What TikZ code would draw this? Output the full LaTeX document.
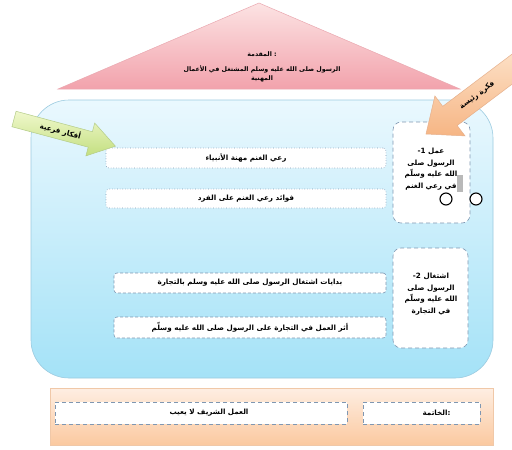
\documentclass[tikz,border=0pt]{standalone}
\usepackage{fontspec}
\newfontfamily\ar[Script=Arabic]{DejaVu Sans}
\TeXXeTstate=1
\newcommand{\AR}[1]{\beginR #1\endR}
\definecolor{bordc}{HTML}{7F97B2}
\definecolor{roofTop}{HTML}{FCE3E3}
\definecolor{roofBot}{HTML}{F2A2AC}
\definecolor{roofLine}{HTML}{EAA8B0}
\definecolor{panTop}{HTML}{EAF8FE}
\definecolor{panBot}{HTML}{A4E2F7}
\definecolor{panLine}{HTML}{9CCBE0}
\definecolor{grnTop}{HTML}{F0F8CC}
\definecolor{grnBot}{HTML}{C3DF80}
\definecolor{grnLine}{HTML}{B4CC88}
\definecolor{orTop}{HTML}{FDE3CA}
\definecolor{orBot}{HTML}{F6B584}
\definecolor{orLine}{HTML}{E6B08C}
\definecolor{endTop}{HTML}{FEEEE2}
\definecolor{endBot}{HTML}{FBC9A0}
\definecolor{endLine}{HTML}{F0C8A8}
\begin{document}
\begin{tikzpicture}[x=1pt, y=-1pt,
  font=\ar\bfseries\fontsize{7.2}{11.5}\selectfont,
  lbox/.style={draw=bordc, fill=white, line width=0.6pt, inner sep=0pt},
  dotbox/.style={lbox, rounded corners=3pt, dotted},
  dashbox/.style={lbox, rounded corners=3pt, dash pattern=on 3pt off 2pt},
  bigbox/.style={lbox, rounded corners=8pt, dash pattern=on 4pt off 3pt, align=center},
  ring/.style={draw=black, fill=white, line width=1.1pt, circle, minimum size=12pt, inner sep=0pt},
  lbl/.style={inner sep=0pt, align=center}]
\useasboundingbox (0,0) rectangle (512,450);
\fill[white] (0,0) rectangle (512,450);
\clip (0,0) rectangle (512,450);

% roof
\shade[top color=roofTop, bottom color=roofBot, draw=roofLine, line width=0.5pt]
  (259,3) -- (460,89) -- (58,89) -- cycle;
\node[lbl, font=\ar\bfseries\fontsize{6.3}{9}\selectfont] (intro) at (262,67) {\AR{المقدمة}\ :\\[6pt]
  \AR{الرسول صلى الله عليه وسلم المشتغل في الأعمال}\\
  \AR{المهنية}};

% main panel
\shade[top color=panTop, bottom color=panBot, draw=panLine, line width=0.6pt, rounded corners=38pt]
  (31,100) rectangle (493,378);

% left boxes
\node[dotbox, minimum width=280pt, minimum height=20pt] (a) at (246,158) {\AR{رعي الغنم مهنة الأنبياء}};
\node[dotbox, minimum width=280pt, minimum height=19pt] (b) at (246,198.5) {\AR{فوائد رعي الغنم على الفرد}};
\node[dashbox, minimum width=272pt, minimum height=20pt] (c) at (250,283) {\AR{بدايات اشتغال الرسول صلى الله عليه وسلم بالتجارة}};
\node[dashbox, minimum width=272pt, minimum height=21pt] (d) at (250,327.5) {\AR{أثر العمل في التجارة على الرسول صلى الله عليه وسلّم}};

% right boxes
\node[bigbox, minimum width=77pt, minimum height=101pt] (m1) at (431.5,172.5) {};
\node[lbl] (m1t) at (431,169) {1-\ \AR{عمل}\\\AR{الرسول صلى}\\\AR{الله عليه وسلّم}\\\AR{في رعي الغنم}};
\node[bigbox, minimum width=75pt, minimum height=100pt] (m2) at (430.5,298) {};
\node[lbl] (m2t) at (431,294) {2-\ \AR{اشتغال}\\\AR{الرسول صلى}\\\AR{الله عليه وسلّم}\\\AR{في التجارة}};
\fill[gray!55] (457,175) rectangle (463,192);
\node[ring] (o1) at (446,199) {};
\node[ring] (o2) at (476,199) {};

% green arrow
\begin{scope}[shift={(14,119)}, rotate=-15, transform shape]
  \shade[top color=grnTop, bottom color=grnBot, draw=grnLine, line width=0.5pt]
    (0,-8) -- (79,-8) -- (79,-17) -- (105,0) -- (79,17) -- (79,8) -- (0,8) -- cycle;
  \node[lbl] (sub) at (48,0) {\AR{أفكار فرعية}};
\end{scope}

% orange arrow
\begin{scope}[shift={(426,134)}, rotate=37, transform shape]
  \shade[top color=orTop, bottom color=orBot, draw=orLine, line width=0.5pt]
    (0,0) -- (30,-25) -- (30,-12) -- (130,-12) -- (130,12) -- (30,12) -- (30,25) -- cycle;
  \node[lbl] (main) at (64,0) {\AR{فكرة رئيسة}};
\end{scope}

% conclusion panel
\shade[top color=endTop, bottom color=endBot, draw=endLine, line width=0.5pt]
  (50,388) rectangle (493,445);
\node[lbox, dash pattern=on 4pt off 3pt, minimum width=292pt, minimum height=22pt] (e) at (201,413) {};
\node[lbl] (et) at ([xshift=8pt]e.center) {\AR{العمل الشريف لا يعيب}};
\node[lbox, dash pattern=on 4pt off 3pt, minimum width=117pt, minimum height=22pt] (f) at (421.5,413) {};
\node[lbl] (ft) at ([xshift=15pt]f.center) {\AR{الخاتمة}:};
\end{tikzpicture}
\end{document}
